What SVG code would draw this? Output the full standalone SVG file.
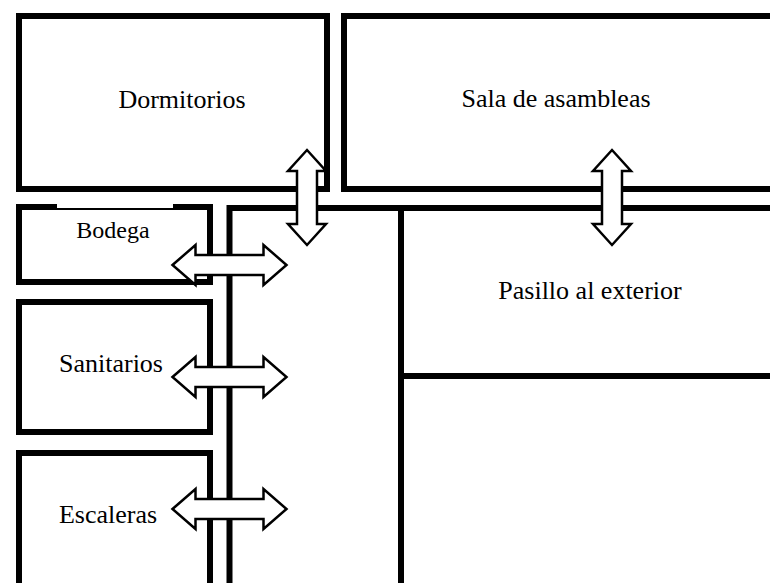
<svg xmlns="http://www.w3.org/2000/svg" xmlns:xlink="http://www.w3.org/1999/xlink" width="770" height="583" viewBox="0 0 770 583">
  <style>
    .room { fill: #fff; stroke: #000; stroke-width: 6; }
    .lbl { font-family: "Liberation Serif", "Times New Roman", serif; font-size: 26px; fill: #000; text-anchor: middle; }
    .arrow { fill: #fff; stroke: #000; stroke-width: 2.5; stroke-linejoin: miter; }
  </style>
  <defs>
    <path id="harrow" d="M-57,0 L-34,-20 L-34,-10 L34,-10 L34,-20 L57,0 L34,20 L34,10 L-34,10 L-34,20 Z"/>
    <path id="varrow" d="M0,-47.5 L19,-26.5 L10,-26.5 L10,26.5 L19,26.5 L0,47.5 L-19,26.5 L-10,26.5 L-10,-26.5 L-19,-26.5 Z"/>
  </defs>
  <rect width="770" height="583" fill="#fff"/>

  <g id="dormitorios">
    <rect class="room" x="19" y="16" width="308" height="173"/>
    <text class="lbl" x="182" y="108">Dormitorios</text>
  </g>
  <g id="sala-asambleas">
    <rect class="room" x="344" y="16" width="500" height="173"/>
    <text class="lbl" x="556" y="107">Sala de asambleas</text>
  </g>
  <g id="bodega">
    <rect class="room" x="19" y="207" width="191" height="75"/>
    <rect x="57" y="203" width="116" height="5" fill="#fff"/>
    <text class="lbl" x="113" y="238" style="font-size:24px">Bodega</text>
  </g>
  <g id="sanitarios">
    <rect class="room" x="19" y="302" width="191" height="130"/>
    <text class="lbl" x="111" y="372">Sanitarios</text>
  </g>
  <g id="escaleras">
    <rect class="room" x="19" y="453" width="191" height="200"/>
    <text class="lbl" x="108" y="523">Escaleras</text>
  </g>
  <g id="pasillo-central">
    <rect class="room" x="229.5" y="208" width="171.5" height="420"/>
  </g>
  <g id="pasillo-exterior">
    <rect class="room" x="401" y="208" width="420" height="168"/>
    <text class="lbl" x="590" y="299">Pasillo al exterior</text>
  </g>

  <g id="connectors">
    <use xlink:href="#varrow" class="arrow" transform="translate(307,197.5)"/>
    <use xlink:href="#varrow" class="arrow" transform="translate(612,197.5)"/>
    <use xlink:href="#harrow" class="arrow" transform="translate(229.5,265)"/>
    <use xlink:href="#harrow" class="arrow" transform="translate(229.5,377)"/>
    <use xlink:href="#harrow" class="arrow" transform="translate(229.5,509)"/>
  </g>
</svg>
